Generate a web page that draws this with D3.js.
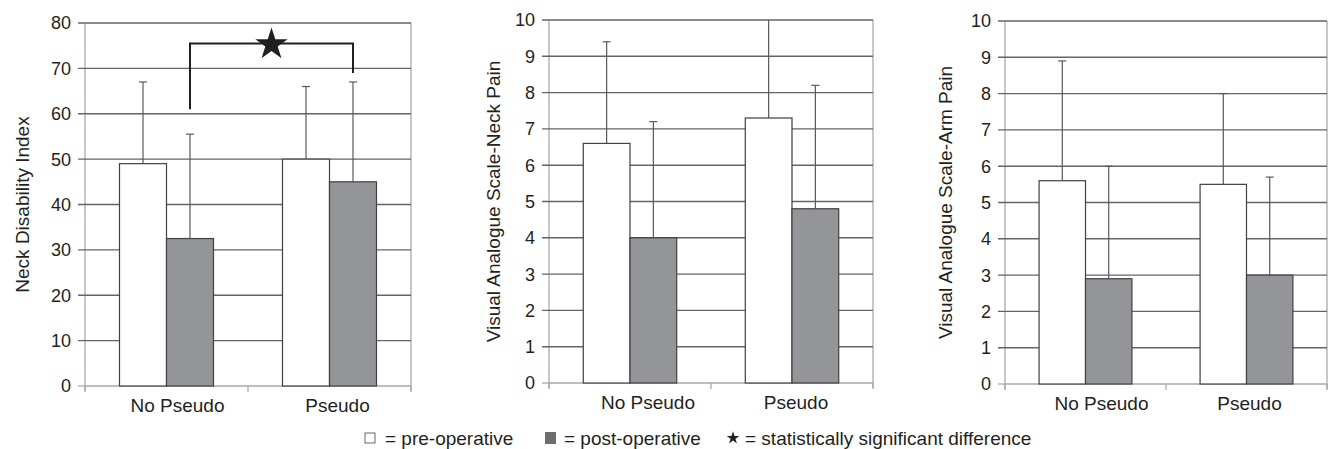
<!DOCTYPE html>
<html>
<head>
<meta charset="utf-8">
<script src="https://cdn.jsdelivr.net/npm/d3@7"></script>
<style>
  body { margin: 0; background: #fff; }
  text { font-family: "Liberation Sans", Arial, sans-serif; fill: #231f20; }
</style>
</head>
<body>
<svg id="chart" width="1333" height="449"></svg>
<script>
var groups = ["No Pseudo", "Pseudo"];
var series = ["pre", "post"];

// neck disability index
var ndiPre = [49, 50];
var ndiPreSd = [18, 16];
var ndiPost = [32.5, 45];
var ndiPostSd = [23, 22];

// VAS neck pain
var neckPre = [6.6, 7.3];
var neckPreSd = [2.8, 2.7];
var neckPost = [4.0, 4.8];
var neckPostSd = [3.2, 3.4];

// VAS arm pain
var armPre = [5.6, 5.5];
var armPreSd = [3.3, 2.5];
var armPost = [2.9, 3.0];
var armPostSd = [3.1, 2.7];

var ndiTicks = [0, 10, 20, 30, 40, 50, 60, 70, 80];
var vasTicks = [0, 1, 2, 3, 4, 5, 6, 7, 8, 9, 10];

// significance bracket for NDI: left foot, top, right foot
var sigBracket = [61, 75.5, 69];

var fillColors = { pre: "#ffffff", post: "#939598" };

var panels = [
  { title: "Neck Disability Index", pre: ndiPre, preSd: ndiPreSd, post: ndiPost, postSd: ndiPostSd,
    ticks: ndiTicks, left: 85, right: 411, top: 23, bottom: 386, titleX: 22, labelShift: [11, 8], sig: true },
  { title: "Visual Analogue Scale-Neck Pain", pre: neckPre, preSd: neckPreSd, post: neckPost, postSd: neckPostSd,
    ticks: vasTicks, left: 549, right: 873, top: 20, bottom: 383, titleX: 493, labelShift: [18, 4], sig: false },
  { title: "Visual Analogue Scale-Arm Pain", pre: armPre, preSd: armPreSd, post: armPost, postSd: armPostSd,
    ticks: vasTicks, left: 1005, right: 1327, top: 21, bottom: 384, titleX: 945, labelShift: [16, 3], sig: false }
];

var svg = d3.select("#chart");

panels.forEach(function(p) { drawPanel(p); });

function drawPanel(p) {
  var g = svg.append("g");
  var yMax = p.ticks[p.ticks.length - 1];

  var y = d3.scaleLinear().domain([0, yMax]).range([p.bottom, p.top]);
  var x = d3.scaleBand().domain(groups).range([p.left, p.right]);
  var xs = d3.scaleBand().domain(series).range([0, x.bandwidth()]).paddingOuter(0.734);

  // frame
  g.append("line").attr("x1", p.left).attr("x2", p.left).attr("y1", p.top).attr("y2", p.bottom + 5)
    .attr("stroke", "#a7a9ac").attr("stroke-width", 1.3);
  g.append("line").attr("x1", p.right).attr("x2", p.right).attr("y1", p.top).attr("y2", p.bottom + 5)
    .attr("stroke", "#a7a9ac").attr("stroke-width", 1.3);
  g.append("line").attr("x1", p.left).attr("x2", p.right).attr("y1", p.bottom).attr("y2", p.bottom)
    .attr("stroke", "#a7a9ac").attr("stroke-width", 1.3);
  g.selectAll(".xtick").data(d3.range(groups.length + 1)).enter().append("line")
    .attr("x1", function(i) { return p.left + i * x.step(); })
    .attr("x2", function(i) { return p.left + i * x.step(); })
    .attr("y1", p.bottom).attr("y2", p.bottom + 6)
    .attr("stroke", "#a7a9ac").attr("stroke-width", 1.3);

  // gridlines
  g.selectAll(".grid").data(p.ticks.filter(function(t) { return t > 0; })).enter().append("line")
    .attr("x1", p.left - 7).attr("x2", p.right)
    .attr("y1", function(d) { return y(d); }).attr("y2", function(d) { return y(d); })
    .attr("stroke", "#636466").attr("stroke-width", 1.4);
  g.append("line").attr("x1", p.left - 7).attr("x2", p.left).attr("y1", p.bottom).attr("y2", p.bottom)
    .attr("stroke", "#a7a9ac").attr("stroke-width", 1.3);

  // tick labels
  g.selectAll(".ylab").data(p.ticks).enter().append("text")
    .attr("x", p.left - 14).attr("y", function(d) { return y(d); })
    .attr("dy", "0.36em").attr("text-anchor", "end").style("font-size", "18px")
    .text(function(d) { return d; });

  g.append("text")
    .attr("transform", "translate(" + p.titleX + "," + ((p.top + p.bottom) / 2) + ") rotate(-90)")
    .attr("text-anchor", "middle").attr("dy", "0.35em").style("font-size", "19px")
    .text(p.title);

  g.selectAll(".xlab").data(groups).enter().append("text")
    .attr("x", function(d, i) { return x(d) + x.bandwidth() / 2 + p.labelShift[i]; })
    .attr("y", p.bottom + 26).attr("text-anchor", "middle").style("font-size", "19px")
    .text(function(d) { return d; });

  // bars
  var rows = [];
  groups.forEach(function(grp, i) {
    rows.push({ group: grp, s: "pre", v: p.pre[i], sd: p.preSd[i] });
    rows.push({ group: grp, s: "post", v: p.post[i], sd: p.postSd[i] });
  });

  function cx(d) { return x(d.group) + xs(d.s) + xs.bandwidth() / 2; }

  g.selectAll(".err").data(rows).enter().append("line")
    .attr("x1", cx).attr("x2", cx)
    .attr("y1", function(d) { return y(d.v); })
    .attr("y2", function(d) { return y(Math.min(d.v + d.sd, yMax)); })
    .attr("stroke", "#58595b").attr("stroke-width", 1.2);
  g.selectAll(".cap").data(rows.filter(function(d) { return d.v + d.sd < yMax; })).enter().append("line")
    .attr("x1", function(d) { return cx(d) - 4; }).attr("x2", function(d) { return cx(d) + 4; })
    .attr("y1", function(d) { return y(d.v + d.sd); })
    .attr("y2", function(d) { return y(d.v + d.sd); })
    .attr("stroke", "#58595b").attr("stroke-width", 1.2);

  g.selectAll(".bar").data(rows).enter().append("rect")
    .attr("x", function(d) { return x(d.group) + xs(d.s); })
    .attr("y", function(d) { return y(d.v); })
    .attr("width", xs.bandwidth())
    .attr("height", function(d) { return y(0) - y(d.v); })
    .attr("fill", function(d) { return fillColors[d.s]; })
    .attr("stroke", "#414042").attr("stroke-width", 1.2);

  if (p.sig) {
    var xl = cx(rows[1]), xr = cx(rows[3]);
    g.append("path")
      .attr("d", "M" + xl + "," + y(sigBracket[0]) + "V" + y(sigBracket[1]) + "H" + xr + "V" + y(sigBracket[2]))
      .attr("fill", "none").attr("stroke", "#231f20").attr("stroke-width", 2);
    g.append("path")
      .attr("d", d3.symbol(d3.symbolStar).size(324)())
      .attr("transform", "translate(" + ((xl + xr) / 2) + "," + (y(sigBracket[1]) + 1) + ")")
      .attr("fill", "#231f20");
  }
}

// legend
var lg = svg.append("g").attr("transform", "translate(0,438)");
lg.append("rect").attr("x", 365).attr("y", -5).attr("width", 10).attr("height", 10)
  .attr("fill", "#fff").attr("stroke", "#414042").attr("stroke-width", 0.8);
lg.append("text").attr("x", 385).attr("dy", "0.35em").style("font-size", "19px").text("= pre-operative");
lg.append("rect").attr("x", 545).attr("y", -6).attr("width", 11).attr("height", 12).attr("fill", "#6d6e71");
lg.append("text").attr("x", 564).attr("dy", "0.35em").style("font-size", "19px").text("= post-operative");
lg.append("path").attr("d", d3.symbol(d3.symbolStar).size(50)())
  .attr("transform", "translate(733,0)").attr("fill", "#231f20");
lg.append("text").attr("x", 745).attr("dy", "0.35em").style("font-size", "19px")
  .text("= statistically significant difference");
</script>
</body>
</html>
